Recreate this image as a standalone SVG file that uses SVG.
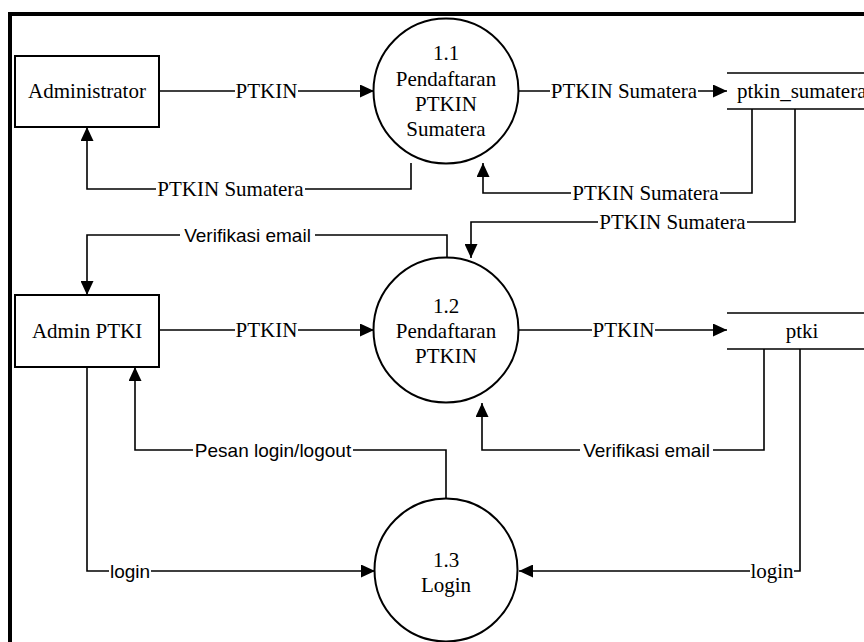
<svg xmlns="http://www.w3.org/2000/svg" width="864" height="642" viewBox="0 0 864 642">
<style>
.shape{fill:#fff;stroke:#000;stroke-width:2}
.ln{fill:none;stroke:#000;stroke-width:1.6}
.st{fill:none;stroke:#000;stroke-width:1.6}
.t{font-family:"Liberation Serif","Times New Roman",serif;font-size:21px;fill:#000;text-anchor:middle}
.s{font-family:"Liberation Sans",Arial,sans-serif;font-size:19px;fill:#000;text-anchor:middle}
.bg{fill:#fff}
</style>
<defs>
<marker id="ah" markerUnits="userSpaceOnUse" markerWidth="14" markerHeight="13" refX="14" refY="6.5" orient="auto">
<path d="M0,0 L14,6.5 L0,13 Z" fill="#000"/>
</marker>
</defs>
<rect width="864" height="642" fill="#fff"/>
<path d="M10,642 V14 H864" fill="none" stroke="#000" stroke-width="4"/>

<g id="connectors">
<path class="ln" d="M159,91 H374" marker-end="url(#ah)"/>
<path class="ln" d="M411,163 V189 H87 V127" marker-end="url(#ah)"/>
<path class="ln" d="M519,91 H727" marker-end="url(#ah)"/>
<path class="ln" d="M752,109 V193 H483 V163" marker-end="url(#ah)"/>
<path class="ln" d="M795,109 V222 H471 V258" marker-end="url(#ah)"/>
<path class="ln" d="M447,258 V235 H87 V295" marker-end="url(#ah)"/>
<path class="ln" d="M159,330 H374" marker-end="url(#ah)"/>
<path class="ln" d="M519,330 H727" marker-end="url(#ah)"/>
<path class="ln" d="M764,349 V450 H482 V403" marker-end="url(#ah)"/>
<path class="ln" d="M800,349 V571 H519" marker-end="url(#ah)"/>
<path class="ln" d="M446,499 V450 H135 V367" marker-end="url(#ah)"/>
<path class="ln" d="M87,367 V571 H375" marker-end="url(#ah)"/>

<rect class="bg" x="235" y="81" width="63" height="20"/>
<text class="t" x="266.5" y="98">PTKIN</text>
<rect class="bg" x="156" y="179" width="149" height="20"/>
<text class="t" x="230.5" y="196">PTKIN Sumatera</text>
<rect class="bg" x="550" y="81" width="148" height="20"/>
<text class="t" x="624" y="98">PTKIN Sumatera</text>
<rect class="bg" x="571" y="183" width="149" height="20"/>
<text class="t" x="645.5" y="200">PTKIN Sumatera</text>
<rect class="bg" x="598" y="212" width="149" height="20"/>
<text class="t" x="672.5" y="229">PTKIN Sumatera</text>
<rect class="bg" x="180" y="225" width="135" height="20"/>
<text class="s" x="247.5" y="242">Verifikasi email</text>
<rect class="bg" x="235" y="320" width="63" height="20"/>
<text class="t" x="266.5" y="337">PTKIN</text>
<rect class="bg" x="592" y="320" width="63" height="20"/>
<text class="t" x="623.5" y="337">PTKIN</text>
<rect class="bg" x="580" y="440" width="133" height="20"/>
<text class="s" x="646.5" y="457">Verifikasi email</text>
<rect class="bg" x="193" y="440" width="160" height="20"/>
<text class="s" x="273" y="457">Pesan login/logout</text>
<rect class="bg" x="109" y="561" width="42" height="20"/>
<text class="s" x="130" y="578">login</text>
<rect class="bg" x="750" y="561" width="44" height="20"/>
<text class="t" x="772" y="578">login</text>
</g>

<g id="administrator">
<rect class="shape" x="15" y="56" width="144" height="71"/>
<text class="t" x="87" y="98">Administrator</text>
</g>
<g id="p11">
<circle class="shape" cx="446" cy="91" r="72.5"/>
<text class="t" x="446" y="60">1.1</text>
<text class="t" x="446" y="86">Pendaftaran</text>
<text class="t" x="446" y="111">PTKIN</text>
<text class="t" x="446" y="136">Sumatera</text>
</g>
<g id="ptkin_sumatera">
<path class="st" d="M727,73 H864 M727,109 H864"/>
<text class="t" x="737" y="98" style="text-anchor:start">ptkin_sumatera</text>
</g>
<g id="admin_ptki">
<rect class="shape" x="15" y="295" width="144" height="72"/>
<text class="t" x="87" y="338">Admin PTKI</text>
</g>
<g id="p12">
<circle class="shape" cx="446" cy="330" r="72.5"/>
<text class="t" x="446" y="313">1.2</text>
<text class="t" x="446" y="338">Pendaftaran</text>
<text class="t" x="446" y="363">PTKIN</text>
</g>
<g id="ptki">
<path class="st" d="M727,313 H864 M727,349 H864"/>
<text class="t" x="802" y="338">ptki</text>
</g>
<g id="p13">
<circle class="shape" cx="446" cy="570" r="71.5"/>
<text class="t" x="446" y="567">1.3</text>
<text class="t" x="446" y="592">Login</text>
</g>
</svg>
